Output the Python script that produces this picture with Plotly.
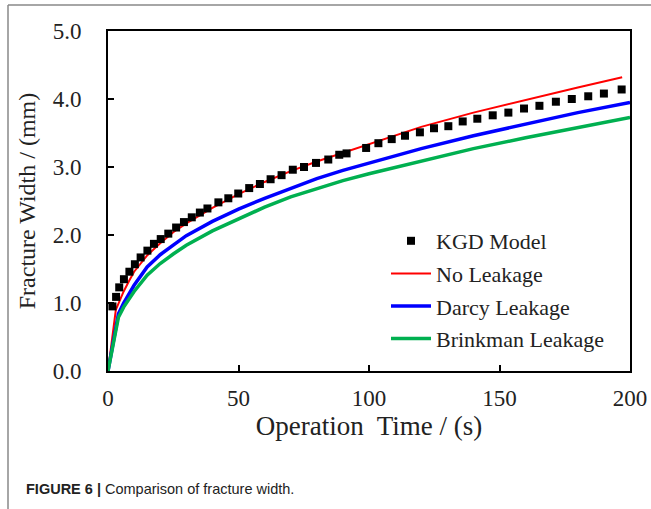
import plotly.graph_objects as go

# ---- data ----
kgd_t = [1.7, 3.1, 4.3, 6.1, 8.2, 10.3, 12.5, 15.1, 17.6, 20.2, 23.1, 26.1, 29.1, 32.1,
         35.2, 38.1, 42.3, 46.1, 49.9, 54.1, 58.2, 62.3, 66.5, 70.8, 75.1, 79.7, 84.4,
         88.6, 91.4, 98.9, 103.6, 108.7, 113.8, 119.5, 124.9, 130.4, 135.9, 141.5,
         147.4, 153.4, 159.4, 165.3, 171.6, 177.7, 184.0, 190.0, 196.8]
kgd_w = [0.95, 1.09, 1.23, 1.35, 1.46, 1.57, 1.67, 1.77, 1.87, 1.94, 2.02, 2.11, 2.19, 2.26,
         2.33, 2.39, 2.48, 2.54, 2.61, 2.69, 2.75, 2.82, 2.88, 2.96, 3.00, 3.06, 3.11,
         3.18, 3.20, 3.28, 3.35, 3.41, 3.46, 3.51, 3.57, 3.60, 3.67, 3.71,
         3.76, 3.80, 3.86, 3.90, 3.96, 4.00, 4.04, 4.08, 4.14]

no_leak_t = [0, 3, 4, 6, 8, 10, 15, 20, 25, 30, 40, 50, 60, 70, 80, 90, 100, 120, 140, 160, 180, 197]
no_leak_w = [0.0, 0.90, 0.99, 1.17, 1.32, 1.46, 1.70, 1.88, 2.04, 2.17, 2.40, 2.60, 2.78, 2.94,
             3.08, 3.21, 3.34, 3.59, 3.80, 3.99, 4.17, 4.32]

darcy_t = [0, 4, 6, 8, 10, 15, 20, 25, 30, 40, 50, 60, 70, 80, 90, 100, 120, 140, 160, 180, 200]
darcy_w = [0.0, 0.84, 1.00, 1.14, 1.26, 1.53, 1.71, 1.85, 1.99, 2.20, 2.38, 2.54, 2.69, 2.83,
           2.95, 3.06, 3.27, 3.46, 3.63, 3.80, 3.95]

brink_t = [0, 4, 6, 8, 10, 15, 20, 25, 30, 40, 50, 60, 70, 80, 90, 100, 120, 140, 160, 180, 200]
brink_w = [0.0, 0.79, 0.94, 1.06, 1.17, 1.41, 1.58, 1.72, 1.85, 2.06, 2.24, 2.41, 2.56, 2.68,
           2.80, 2.90, 3.09, 3.27, 3.43, 3.58, 3.73]

x_ticks = [0, 50, 100, 150, 200]
y_ticks = [0, 1, 2, 3, 4, 5]

SERIF = "Liberation Serif, Times New Roman, serif"

fig = go.Figure()
fig.add_trace(go.Scatter(x=no_leak_t, y=no_leak_w, mode="lines", name="No Leakage",
                         line=dict(color="#ff0000", width=2), legendgroup="b", legendrank=2))
fig.add_trace(go.Scatter(x=darcy_t, y=darcy_w, mode="lines", name="Darcy Leakage",
                         line=dict(color="#0000ff", width=3.5), legendgroup="c", legendrank=3))
fig.add_trace(go.Scatter(x=brink_t, y=brink_w, mode="lines", name="Brinkman Leakage",
                         line=dict(color="#00b050", width=3.5), legendgroup="d", legendrank=4))
fig.add_trace(go.Scatter(x=kgd_t, y=kgd_w, mode="markers", name="KGD Model",
                         marker=dict(symbol="square", size=8, color="black"),
                         legendgroup="a", legendrank=1))

L, R, T, B = 108, 21, 31, 138
W, H = 651, 509
pw, ph = W - L - R, H - T - B

def px(xp):
    return (xp - L) / pw

def py(yp):
    return (H - B - yp) / ph

axis_common = dict(showline=True, linecolor="black", linewidth=2, mirror=True,
                   ticks="inside", ticklen=6, tickwidth=1.5, tickcolor="black",
                   showgrid=False, zeroline=False,
                   tickfont=dict(family=SERIF, size=23, color="#222"))

fig.update_layout(
    width=W, height=H,
    margin=dict(l=L, r=R, t=T, b=B, autoexpand=False),
    paper_bgcolor="white", plot_bgcolor="white",
    xaxis=dict(range=[0, 200], tickvals=x_ticks, ticklabelstandoff=5,
               title=dict(text="Operation  Time / (s)", font=dict(family=SERIF, size=27, color="#222"),
                          standoff=2),
               **axis_common),
    yaxis=dict(range=[0, 5], tickvals=y_ticks, tickformat=".1f", ticklabelstandoff=20,
               title=dict(text="Fracture Width / (mm)", font=dict(family=SERIF, size=24, color="#222"),
                          standoff=10),
               **axis_common),
    legend=dict(x=px(386), y=py(220), xanchor="left", yanchor="top",
                font=dict(family=SERIF, size=22, color="#222"),
                bgcolor="rgba(0,0,0,0)", tracegroupgap=1, itemwidth=40),
    showlegend=True,
    shapes=[
        dict(type="line", xref="paper", yref="paper", x0=px(8), x1=px(655), y0=py(5), y1=py(5),
             line=dict(color="#888888", width=1.5)),
        dict(type="line", xref="paper", yref="paper", x0=px(8), x1=px(8), y0=py(5), y1=py(515),
             line=dict(color="#888888", width=1.5)),
    ],
    annotations=[
        dict(xref="paper", yref="paper", x=px(24), y=py(489), xanchor="left", yanchor="middle",
             showarrow=False,
             text="<b>FIGURE 6 |</b> Comparison of fracture width.",
             font=dict(family="Liberation Sans, Arial, sans-serif", size=14.5, color="#222")),
    ],
)

fig.write_html("out.html")
